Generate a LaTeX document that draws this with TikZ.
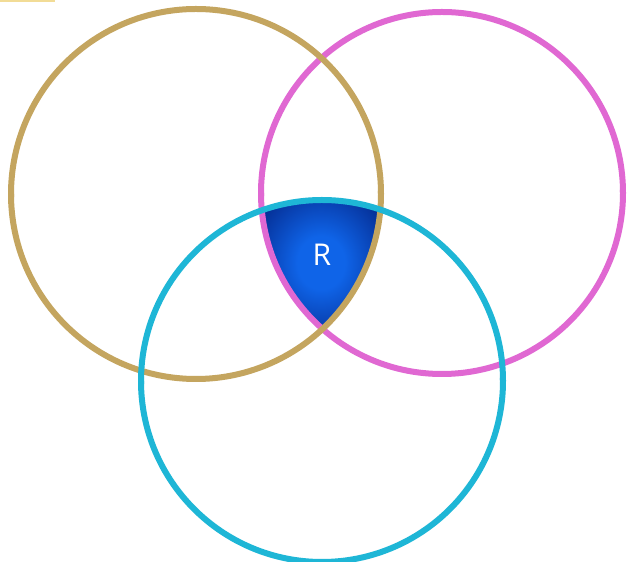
\documentclass[tikz,border=0pt]{standalone}
\usepackage{fontspec}
\setmainfont{Open Sans}
\definecolor{goldc}{RGB}{196,165,95}
\definecolor{pinkc}{RGB}{224,104,210}
\definecolor{cyanc}{RGB}{30,182,214}
\definecolor{rbright}{RGB}{15,100,232}
\definecolor{rdark}{RGB}{0,18,105}
\definecolor{topmark}{RGB}{242,220,150}
\pgfdeclareradialshading{rshade}{\pgfpoint{0bp}{0bp}}{color(0bp)=(rbright); color(10bp)=(rbright); color(42bp)=(rdark); color(50bp)=(rdark)}
\tikzset{ring/.style={line width=6pt,line cap=butt}}
\begin{document}
\begin{tikzpicture}[x=1pt,y=1pt]
\fill[white] (0,0) rectangle (627,562);
\useasboundingbox (0,0) rectangle (627,562);
\fill[topmark] (0,559.5) rectangle (55,562);
\coordinate (cg) at (196,368);
\coordinate (cp) at (442,369);
\coordinate (cc) at (322,181);
\coordinate (va) at (261.8,351.7);
\shade[shading=rshade] (va)
  arc[start angle=109.43,end angle=71.2,radius=181]
  arc[start angle=-4.87,end angle=-46.86,radius=185]
  arc[start angle=228.70,end angle=185.48,radius=181] -- cycle;
\draw[ring,pinkc] (cp) ++(0:181) arc[start angle=0,end angle=181,radius=181];
\draw[ring,pinkc] (cp) ++(180:181) arc[start angle=180,end angle=361,radius=181];
\draw[ring,goldc] (cg) ++(0:185) arc[start angle=0,end angle=181,radius=185];
\draw[ring,goldc] (cg) ++(180:185) arc[start angle=180,end angle=361,radius=185];
\draw[ring,cyanc] (cc) ++(0:181) arc[start angle=0,end angle=181,radius=181];
\draw[ring,cyanc] (cc) ++(180:181) arc[start angle=180,end angle=361,radius=181];
\node[text=white,font=\fontsize{30}{30}\selectfont] (r) at (322,307) {R};
\end{tikzpicture}
\end{document}
